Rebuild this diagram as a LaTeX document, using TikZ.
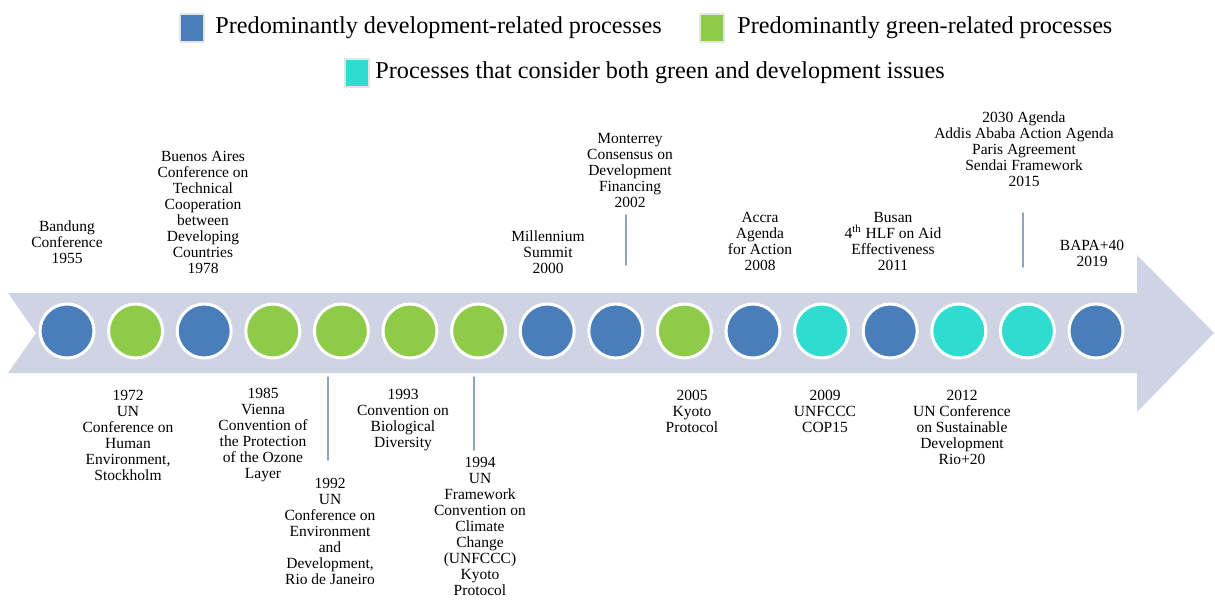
\documentclass[tikz,border=0pt]{standalone}
\usepackage{fontspec}
\setmainfont{Liberation Serif}
\definecolor{devblue}{HTML}{4A7EBB}
\definecolor{grngreen}{HTML}{8DCB48}
\definecolor{bothcyan}{HTML}{2EDDD0}
\definecolor{arrowgray}{HTML}{CED4E4}
\definecolor{leadgray}{HTML}{8EA2C2}
\begin{document}
\begin{tikzpicture}[x=0.5pt,y=-0.5pt,line join=round,line cap=round,
	lbl/.style={align=center,inner sep=0pt,anchor=north,font=\fontsize{7.75}{8}\selectfont},
	dot/.style={circle,draw=white,line width=1.5pt,minimum size=27pt,inner sep=0pt},
	key/.style={draw=white!80!gray,line width=0.6pt,minimum width=12pt,minimum height=14pt,inner sep=0pt},
	keytext/.style={anchor=west,inner sep=0pt,font=\fontsize{12.1}{14}\selectfont},
	leader/.style={draw=leadgray,line width=0.75pt}]
	
	\useasboundingbox (0,0) rectangle (1215,600);
	
	% legend
	\node[key,fill=devblue] (kdev) at (192,28) {};
	\node[keytext] (tdev) at (215,28) {Predominantly development-related processes};
	\node[key,fill=grngreen] (kgrn) at (712,28) {};
	\node[keytext] (tgrn) at (737,28) {Predominantly green-related processes};
	\node[key,fill=bothcyan] (kboth) at (357,73) {};
	\node[keytext] (tboth) at (375,73) {Processes that consider both green and development issues};
	
	% the arrow
	\fill[arrowgray] (8,293)--(1137,293)--(1137,255)--(1214,333)--(1137,412)
	--(1137,373)--(8,373)--(36,333)--cycle;
	
	% events
	\foreach \col [count=\i from 0] in {devblue,grngreen,devblue,grngreen,grngreen,grngreen,grngreen,devblue,devblue,grngreen,devblue,bothcyan,devblue,bothcyan,bothcyan,devblue}
	\node[dot,fill=\col] (p\i) at ({67+68.6*\i},331) {};
	
	% labels above
	\node[lbl] (bandung) at (67,220.5) {Bandung\\Conference\\1955};
	\node[lbl] (buenos) at (203,150.5) {Buenos Aires\\Conference on\\Technical\\Cooperation\\between\\Developing\\Countries\\1978};
	\node[lbl] (millen) at (548,230.5) {Millennium\\Summit\\2000};
	\node[lbl] (monterrey) at (630,132.5) {Monterrey\\Consensus on\\Development\\Financing\\2002};
	\node[lbl] (accra) at (760,211.5) {Accra\\Agenda\\for Action\\2008};
	\node[lbl] (busan) at (893,211.5) {Busan\\4\textsuperscript{th} HLF on Aid\\Effectiveness\\2011};
	\node[lbl] (agenda) at (1024,111.5) {2030 Agenda\\Addis Ababa Action Agenda\\Paris Agreement\\Sendai Framework\\2015};
	\node[lbl] (bapa) at (1092,239.5) {BAPA+40\\2019};
	
	% labels below
	\node[lbl] (stockholm) at (128,389.5) {1972\\UN\\Conference on\\Human\\Environment,\\Stockholm};
	\node[lbl] (vienna) at (263,387.5) {1985\\Vienna\\Convention of\\the Protection\\of the Ozone\\Layer};
	\node[lbl] (rio) at (330,477.5) {1992\\UN\\Conference on\\Environment\\and\\Development,\\Rio de Janeiro};
	\node[lbl] (biodiv) at (403,388.5) {1993\\Convention on\\Biological\\Diversity};
	\node[lbl] (unfccc) at (480,457) {1994\\UN\\Framework\\Convention on\\Climate\\Change\\(UNFCCC)\\Kyoto\\Protocol};
	\node[lbl] (kyoto) at (692,389.5) {2005\\Kyoto\\Protocol};
	\node[lbl] (cop) at (825,389.5) {2009\\UNFCCC\\COP15};
	\node[lbl] (rioplus) at (962,389.5) {2012\\UN Conference\\on Sustainable\\Development\\Rio+20};
	
	% leader lines
	\coordinate (a1) at (626,215); \coordinate (a2) at (626,265);
	\coordinate (b1) at (1023,213); \coordinate (b2) at (1023,267);
	\coordinate (c1) at (328,377); \coordinate (c2) at (328,460);
	\coordinate (d1) at (474,377); \coordinate (d2) at (474,450);
	\draw[leader] (a1)--(a2) (b1)--(b2) (c1)--(c2) (d1)--(d2);
\end{tikzpicture}
\end{document}
